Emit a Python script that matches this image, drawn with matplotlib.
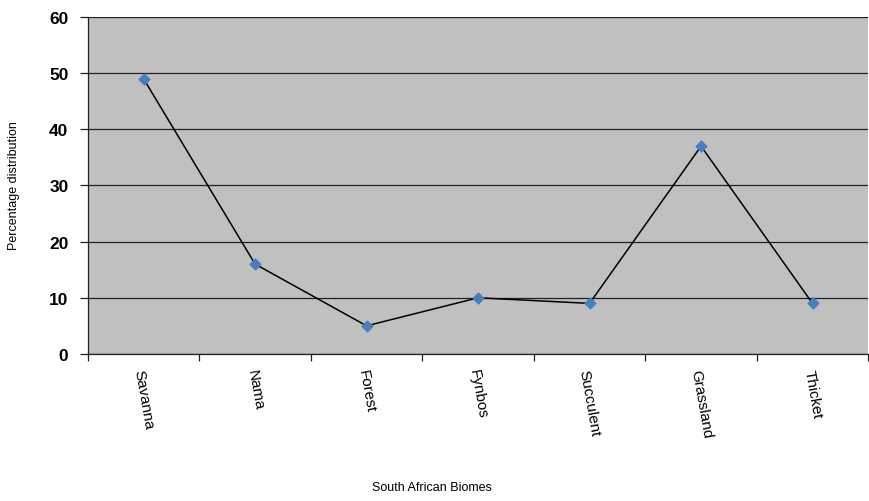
import numpy as np
import matplotlib.pyplot as plt

biomes = ['Savanna', 'Nama', 'Forest', 'Fynbos', 'Succulent', 'Grassland', 'Thicket']
percent = [49, 16, 5, 10, 9, 37, 9]
yticks = [0, 10, 20, 30, 40, 50, 60]

plt.rcParams['font.family'] = ['Liberation Sans', 'DejaVu Sans']

fig = plt.figure(figsize=(8.7, 5.02), dpi=100)
ax = fig.add_axes([0.101, 0.293, 0.897, 0.671])
ax.set_facecolor('#c0c0c0')

x = np.arange(len(biomes))
ax.plot(x, percent, color='black', linewidth=1.1, zorder=3)
ax.scatter(x, percent, marker='D', s=30, color='#4a7ebb', zorder=4)

ax.set_xlim(-0.5, len(biomes) - 0.5)
ax.set_ylim(0, 60)
ax.set_yticks(yticks)
ax.set_yticklabels([str(v) for v in yticks], fontweight='bold', fontsize=12.5)
ax.yaxis.grid(True, color='#202020', linewidth=0.9)
ax.set_axisbelow(True)

ax.set_xticks(x)
ax.set_xticklabels(biomes, rotation=-80, fontsize=11, ha='center', va='top')
ax.set_xticks(np.arange(len(biomes) + 1) - 0.5, minor=True)
ax.tick_params(axis='x', which='major', length=0, pad=10)
ax.tick_params(axis='x', which='minor', length=5, width=0.9, color='#202020')
ax.tick_params(axis='y', length=6, width=0.9, color='#202020', pad=8)

for side in ['top', 'right']:
    ax.spines[side].set_visible(False)
for side in ['left', 'bottom']:
    ax.spines[side].set_color('#202020')
    ax.spines[side].set_linewidth(0.9)

fig.text(0.497, 0.976 - 0.0, '', fontsize=1)
fig.text(0.497, 0.015, 'South African Biomes', fontsize=9, ha='center', va='bottom')
fig.text(0.016, 0.63, 'Percentage distribution', fontsize=9, rotation=90, ha='center', va='center')

fig.savefig('out.png', dpi=100)
